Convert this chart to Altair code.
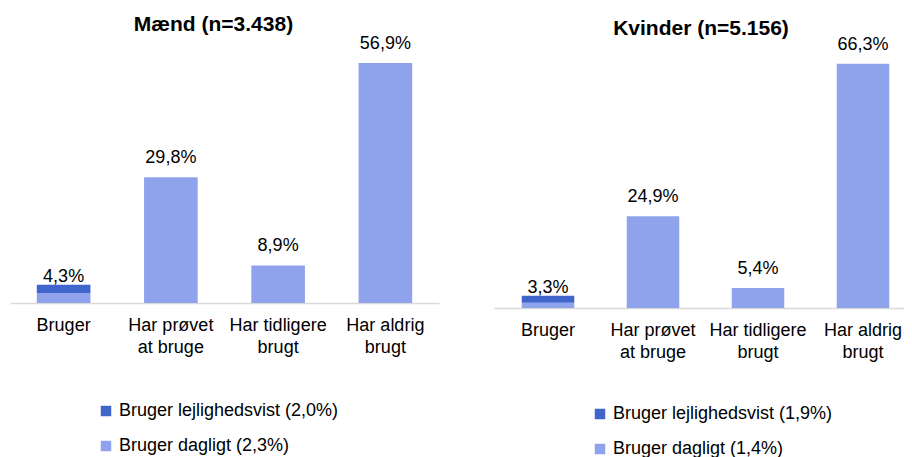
import altair as alt
import pandas as pd

# ---- data ----
categories = ["Bruger", "Har prøvet\nat bruge", "Har tidligere\nbrugt", "Har aldrig\nbrugt"]
men_totals = [4.3, 29.8, 8.9, 56.9]
women_totals = [3.3, 24.9, 5.4, 66.3]
men_daily = 2.3
men_occasional = 2.0
women_daily = 1.4
women_occasional = 1.9
men_title = "Mænd (n=3.438)"
women_title = "Kvinder (n=5.156)"

DARK = "#4066CC"
LIGHT = "#8FA3EC"
FONT = "Liberation Sans"


def fmt(v):
    return f"{v:.1f}".replace(".", ",") + "%"


def panel(title, totals, daily, occasional, ymax, height, width, pad_outer, align,
          title_dy, title_dx, legend_x, legend_y, legend_gap):
    occ_name = f"Bruger lejlighedsvist ({fmt(occasional)})"
    daily_name = f"Bruger dagligt ({fmt(daily)})"

    seg_df = pd.DataFrame({
        "category": [categories[0], categories[0]],
        "segment": [daily_name, occ_name],
        "value": [daily, occasional],
        "stackorder": [0, 1],
    })
    other_df = pd.DataFrame({"category": categories[1:], "value": totals[1:]})
    label_df = pd.DataFrame({
        "category": categories,
        "total": totals,
        "label": [fmt(v) for v in totals],
    })

    x = alt.X(
        "category:N",
        sort=categories,
        scale=alt.Scale(domain=categories, paddingInner=0.5, paddingOuter=pad_outer, align=align),
        axis=alt.Axis(
            title=None, labelAngle=0, ticks=False,
            labelExpr="split(datum.label, '\\n')",
            domainColor="#D9D9D9", domainWidth=1.5,
            labelFont=FONT, labelFontSize=18, labelColor="black",
            labelPadding=13, labelLineHeight=22, labelLimit=300,
        ),
    )
    yscale = alt.Scale(domain=[0, ymax])

    stacked = alt.Chart(seg_df).mark_bar().encode(
        x=x,
        y=alt.Y("value:Q", stack="zero", scale=yscale, axis=None),
        color=alt.Color(
            "segment:N",
            scale=alt.Scale(domain=[occ_name, daily_name], range=[DARK, LIGHT]),
            legend=alt.Legend(
                title=None, orient="none", legendX=legend_x, legendY=legend_y,
                direction="vertical", symbolType="square", symbolSize=110,
                symbolStrokeWidth=0, labelFont=FONT, labelFontSize=18,
                labelColor="black", labelOffset=4, rowPadding=legend_gap, padding=0,
                labelLimit=400,
            ),
        ),
        order=alt.Order("stackorder:Q"),
    )

    others = alt.Chart(other_df).mark_bar(color=LIGHT).encode(
        x=x,
        y=alt.Y("value:Q", scale=yscale, axis=None),
    )

    text_small = alt.Chart(label_df).transform_filter(
        alt.datum.category == categories[0]
    ).mark_text(baseline="alphabetic", dy=-3, font=FONT, fontSize=18, color="black").encode(
        x=x, y=alt.Y("total:Q", scale=yscale, axis=None), text="label:N"
    )
    text_big = alt.Chart(label_df).transform_filter(
        alt.datum.category != categories[0]
    ).mark_text(baseline="alphabetic", dy=-14, font=FONT, fontSize=18, color="black").encode(
        x=x, y=alt.Y("total:Q", scale=yscale, axis=None), text="label:N"
    )

    return alt.layer(stacked, others, text_small, text_big).properties(
        width=width, height=height,
        title=alt.TitleParams(
            text=title, font=FONT, fontSize=21, fontWeight="bold", color="black",
            anchor="middle", offset=0, dx=title_dx, dy=title_dy,
        ),
    )


left = panel(men_title, men_totals, men_daily, men_occasional,
             ymax=60, height=253, width=429, pad_outer=0.25, align=0.5,
             title_dy=0, title_dx=-11, legend_x=87, legend_y=352, legend_gap=17)
right = panel(women_title, women_totals, women_daily, women_occasional,
              ymax=70, height=258, width=410, pad_outer=0.2024, align=0.653,
              title_dy=3, title_dx=2, legend_x=97, legend_y=355, legend_gap=17)

chart = alt.hconcat(left, right, spacing=55, bounds="flush").resolve_scale(
    color="independent", y="independent", x="independent"
).properties(
    padding={"left": 2, "top": 6, "right": 0, "bottom": 0}
).configure(background="white").configure_view(strokeWidth=0, stroke=None)

chart.save("out.html", embed_options={"renderer": "svg", "actions": False})
